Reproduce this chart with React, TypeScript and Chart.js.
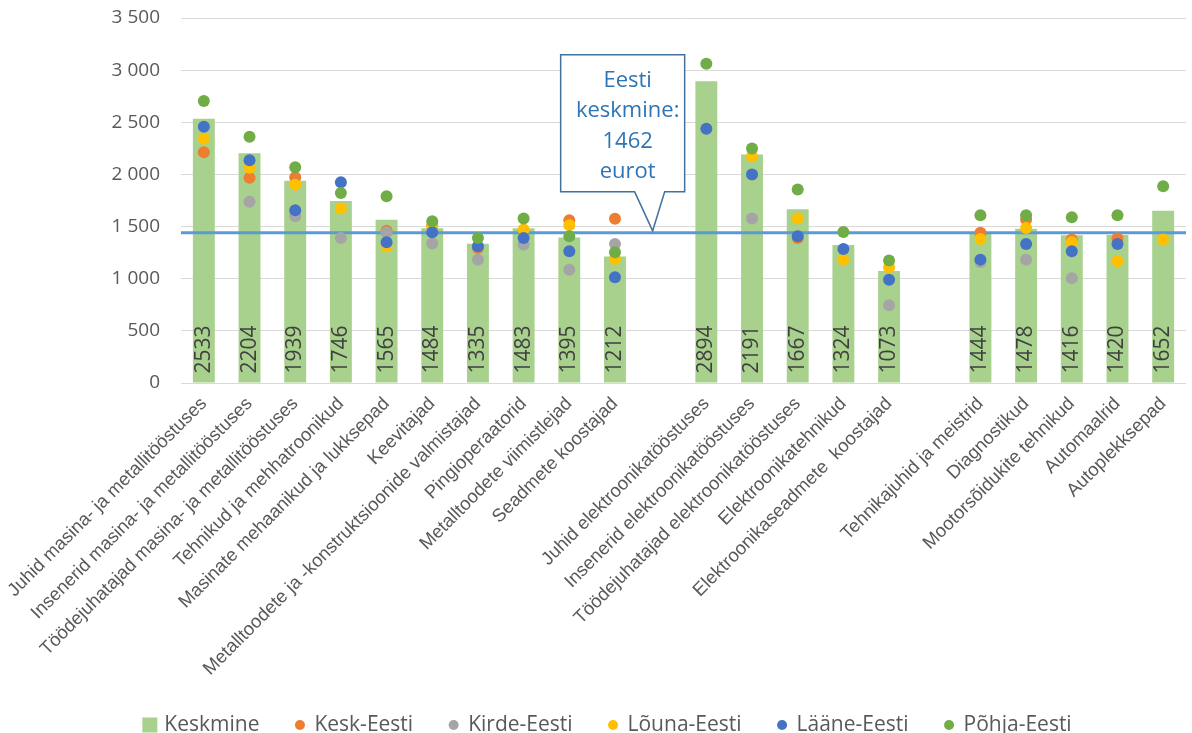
import React, { useEffect, useRef } from "react";
import { Chart, registerables } from "chart.js";

Chart.register(...registerables);

const categories = [
  "Juhid masina- ja metallitööstuses",
  "Insenerid masina- ja metallitööstuses",
  "Töödejuhatajad masina- ja metallitööstuses",
  "Tehnikud ja mehhatroonikud",
  "Masinate mehaanikud ja lukksepad",
  "Keevitajad",
  "Metalltoodete ja -konstruktsioonide valmistajad",
  "Pingioperaatorid",
  "Metalltoodete viimistlejad",
  "Seadmete koostajad",
  "",
  "Juhid elektroonikatööstuses",
  "Insenerid elektroonikatööstuses",
  "Töödejuhatajad elektroonikatööstuses",
  "Elektroonikatehnikud",
  "Elektroonikaseadmete  koostajad",
  "",
  "Tehnikajuhid ja meistrid",
  "Diagnostikud",
  "Mootorsõidukite tehnikud",
  "Automaalrid",
  "Autoplekksepad",
];

const keskmine = [2533, 2204, 1939, 1746, 1565, 1484, 1335, 1483, 1395, 1212, null, 2894, 2191, 1667, 1324, 1073, null, 1444, 1478, 1416, 1420, 1652];
const keskEesti = [2213, 1967, 1973, null, 1460, 1510, 1295, null, 1561, 1574, null, null, null, 1390, null, null, null, 1440, 1567, 1375, 1385, null];
const kirdeEesti = [null, 1737, 1599, 1391, 1446, 1337, 1183, 1327, 1087, 1334, null, null, 1577, null, null, 745, null, 1161, 1183, 1004, null, null];
const lounaEesti = [2342, 2063, 1900, 1673, 1311, 1503, null, 1471, 1513, 1190, null, null, 2175, 1577, 1183, 1109, null, 1382, 1487, 1350, 1167, 1375];
const laaneEesti = [2457, 2136, 1656, 1925, 1349, 1446, 1311, 1391, 1263, 1013, null, 2438, 1999, 1407, 1286, 991, null, 1183, 1334, 1263, 1334, null];
const pohjaEesti = [2703, 2361, 2069, 1823, 1791, 1551, 1391, 1577, 1407, 1253, null, 3061, 2249, 1855, 1449, 1174, null, 1609, 1609, 1590, 1609, 1887];

const seriesNames = ["Keskmine", "Kesk-Eesti", "Kirde-Eesti", "Lõuna-Eesti", "Lääne-Eesti", "Põhja-Eesti"];
const seriesColors = ["#A9D18E", "#ED7D31", "#A5A5A5", "#FFC000", "#4472C4", "#70AD47"];

const yMin = 0;
const yMax = 3500;
const yStep = 500;

const eestiKeskmineJoon = 1440;
const calloutLines = ["Eesti", "keskmine:", "1462", "eurot"];

const formatTick = (v: number) => {
  if (v >= 1000) {
    const th = Math.floor(v / 1000);
    const rest = String(v % 1000).padStart(3, "0");
    return `${th} ${rest}`;
  }
  return String(v);
};

const overlayPlugin = {
  id: "overlay",
  afterDatasetDraw(chart: any, args: any) {
    if (args.index !== 0) return;
    const ctx = chart.ctx;
    const { chartArea } = chart;
    const y = chart.scales.y;
    const ly = y.getPixelForValue(eestiKeskmineJoon);
    ctx.save();
    ctx.strokeStyle = "#5B9BD5";
    ctx.lineWidth = 3;
    ctx.beginPath();
    ctx.moveTo(chartArea.left, ly);
    ctx.lineTo(chartArea.right, ly);
    ctx.stroke();

    ctx.font = '21px "Open Sans"';
    ctx.fillStyle = "#404040";
    ctx.textAlign = "left";
    ctx.textBaseline = "middle";
    args.meta.data.forEach((el: any, i: number) => {
      const v = keskmine[i];
      if (v == null) return;
      ctx.save();
      ctx.translate(el.x, el.base - 9);
      ctx.rotate(-Math.PI / 2);
      ctx.fillText(String(v), 0, 0);
      ctx.restore();
    });
    ctx.restore();
  },
  afterDraw(chart: any) {
    const ctx = chart.ctx;
    const x = chart.scales.x;
    const y = chart.scales.y;
    // callout
    const tipX = x.getPixelForValue(10) - 8;
    const tipY = y.getPixelForValue(eestiKeskmineJoon) - 2;
    const left = tipX - 92;
    const right = tipX + 32;
    const top = tipY - 176;
    const bottom = tipY - 39;
    ctx.save();
    ctx.beginPath();
    ctx.moveTo(left, top);
    ctx.lineTo(right, top);
    ctx.lineTo(right, bottom);
    ctx.lineTo(tipX + 12, bottom);
    ctx.lineTo(tipX, tipY);
    ctx.lineTo(tipX - 18, bottom);
    ctx.lineTo(left, bottom);
    ctx.closePath();
    ctx.fillStyle = "#FFFFFF";
    ctx.fill();
    ctx.strokeStyle = "#41719C";
    ctx.lineWidth = 1.5;
    ctx.stroke();
    ctx.fillStyle = "#2E75B6";
    ctx.font = '22px "Open Sans"';
    ctx.textAlign = "center";
    ctx.textBaseline = "middle";
    const cx = (left + right) / 2 + 5;
    calloutLines.forEach((t, i) => {
      ctx.fillText(t, cx, top + 26 + i * 30.4);
    });
    ctx.restore();

    // legend
    ctx.save();
    ctx.font = '21px "Open Sans"';
    ctx.textBaseline = "middle";
    ctx.textAlign = "left";
    const gapText = 22;
    const gapItem = 33;
    const widths = chart.data.datasets.map((d: any) => ctx.measureText(d.label).width);
    const total = widths.reduce((a: number, w: number) => a + gapText + w, 0) + gapItem * (widths.length - 1);
    let cx2 = chart.width / 2 + 11 - total / 2;
    const cy = 725;
    chart.data.datasets.forEach((d: any, i: number) => {
      const color = seriesColors[i];
      ctx.fillStyle = color;
      if (i === 0) {
        ctx.fillRect(cx2, cy - 7.5, 15, 15);
      } else {
        ctx.beginPath();
        ctx.arc(cx2 + 7.5, cy, 5, 0, Math.PI * 2);
        ctx.fill();
      }
      ctx.fillStyle = "#595959";
      ctx.fillText(d.label, cx2 + gapText, cy);
      cx2 += gapText + widths[i] + gapItem;
    });
    ctx.restore();
  },
};

export default function App() {
  const ref = useRef<HTMLCanvasElement | null>(null);

  useEffect(() => {
    if (!ref.current) return;
    const pointSets = [keskEesti, kirdeEesti, lounaEesti, laaneEesti, pohjaEesti];
    const chart = new Chart(ref.current, {
      type: "bar",
      data: {
        labels: categories,
        datasets: [
          {
            type: "bar",
            label: seriesNames[0],
            data: keskmine,
            backgroundColor: seriesColors[0],
            borderWidth: 0,
            categoryPercentage: 1,
            barPercentage: 0.48,
            order: 10,
          } as any,
          ...pointSets.map((arr, i) => ({
            type: "line",
            label: seriesNames[i + 1],
            data: arr,
            showLine: false,
            pointRadius: 6,
            pointHoverRadius: 6,
            pointBorderWidth: 0,
            backgroundColor: seriesColors[i + 1],
            borderColor: seriesColors[i + 1],
            order: 5 - i,
          })),
        ],
      },
      options: {
        responsive: false,
        animation: false,
        layout: { padding: { top: 18, right: 0, left: 0, bottom: 0 } },
        plugins: {
          legend: { display: false },
          tooltip: { enabled: false },
        },
        scales: {
          x: {
            grid: { display: false, drawTicks: false },
            border: { display: false },
            ticks: {
              autoSkip: false,
              maxRotation: 45,
              minRotation: 45,
              padding: 10,
              color: "#595959",
              font: { family: "Liberation Sans", size: 18.5 },
            },
            afterFit: (scale: any) => {
              scale.height = 733 - 383;
              scale.paddingLeft = 0;
              scale.paddingRight = 0;
            },
          },
          y: {
            min: yMin,
            max: yMax,
            grid: { color: "#D9D9D9", lineWidth: 1, drawTicks: false },
            border: { display: false },
            ticks: {
              stepSize: yStep,
              padding: 21,
              color: "#595959",
              font: { family: "Open Sans", size: 19 },
              callback: (v: any) => formatTick(Number(v)),
            },
            afterFit: (scale: any) => {
              scale.width = 181;
              scale.paddingTop = 0;
              scale.paddingBottom = 0;
            },
          },
        },
      },
      plugins: [overlayPlugin],
    });
    return () => chart.destroy();
  }, []);

  return (
    <div style={{ position: "fixed", left: 0, top: 0, width: 1192, height: 733, background: "#fff" }}>
      <canvas ref={ref} width={1192} height={733} />
    </div>
  );
}
